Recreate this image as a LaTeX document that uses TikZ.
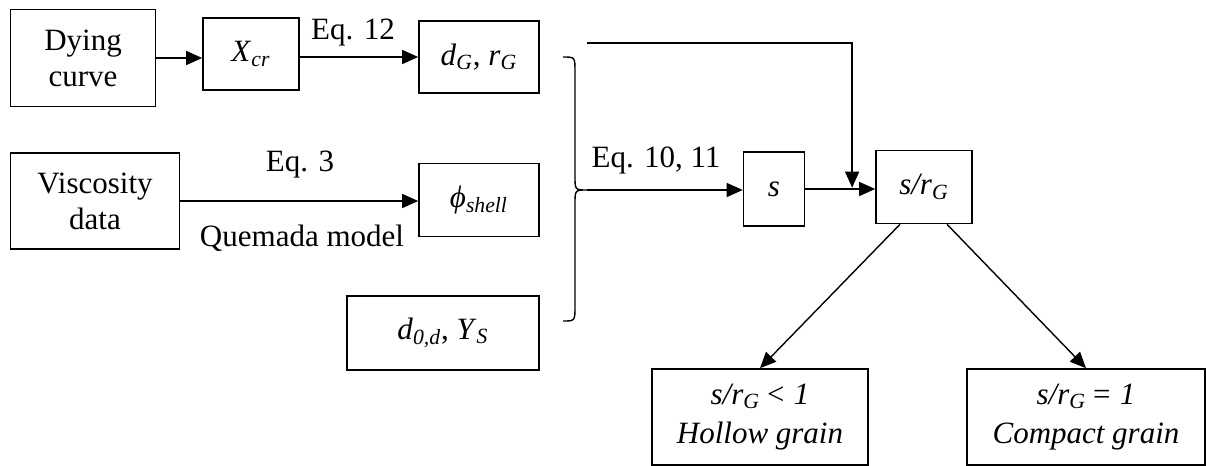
\documentclass[tikz,border=0pt]{standalone}
\usepackage{fontspec}
\setmainfont{Liberation Serif}
\usepackage{tikz}
\usetikzlibrary{arrows.meta, positioning, calc}
\newcommand{\isub}[2]{\textit{#1}\textsubscript{\textit{#2}}}

\begin{document}
\begin{tikzpicture}[x=0.5pt, y=-0.5pt,
  every node/.style={font=\fontsize{15.5}{18}\selectfont},
  box/.style={draw, line width=0.8pt, align=center, inner sep=0pt},
  arr/.style={line width=0.7pt, -{Triangle[length=8pt, width=7pt]}},
  lbl/.style={inner sep=0pt}]
  \useasboundingbox (0,0) rectangle (1206,466);

  % inputs
  \node[box, minimum width=72.5pt, minimum height=48.5pt] (dying) at (83,58) {Dying\\curve};
  \node[box, minimum width=48pt, minimum height=36pt] (xcr) at (251,54) {\isub{X}{cr}};
  \node[box, minimum width=60pt, minimum height=36pt] (dg) at (479,57) {\isub{d}{G}, \isub{r}{G}};
  \node[box, minimum width=84.5pt, minimum height=48pt] (visc) at (95,201) {Viscosity\\data};
  \node[box, minimum width=60pt, minimum height=36.5pt] (phi) at (479,200) {\isub{ϕ}{shell}};
  \node[box, minimum width=96pt, minimum height=37pt] (d0) at (443,333) {\isub{d}{0,d}, \isub{Y}{S}};

  % results
  \node[box, minimum width=30.5pt, minimum height=37pt] (s) at (774,189) {\textit{s}};
  \node[box, minimum width=48pt, minimum height=36.5pt] (sr) at (924,187) {\isub{s/r}{G}};
  \node[box, minimum width=108pt, minimum height=48pt, font=\fontsize{15.5}{19.5}\selectfont\itshape] (hollow) at (760,417) {\isub{s/r}{G}\,< 1\\Hollow grain};
  \node[box, minimum width=119pt, minimum height=48pt, font=\fontsize{15.5}{19.5}\selectfont\itshape] (compact) at (1086,417) {\isub{s/r}{G}\,= 1\\Compact grain};

  \node[lbl] (eq12) at (353,33) {Eq. 12};
  \node[lbl] (eq3) at (300,165) {Eq. 3};
  \node[lbl] (quem) at (302,238) {Quemada model};
  \node[lbl] (eq1011) at (656,160) {Eq. 10, 11};

  \draw[arr] (dying.east) -- (dying.east -| xcr.west);
  \draw[arr] (xcr.east |- dg.west) -- (dg.west);
  \draw[arr] (visc.east) -- (visc.east -| phi.west);

  % brace
  \coordinate (cusp) at (587,190);
  \draw[line width=0.7pt] (563,57) .. controls (575,57) .. (575,72) -- (575,176)
    .. controls (575,190) .. (cusp) .. controls (575,190) .. (575,204) -- (575,306)
    .. controls (575,321) .. (563,321);

  \coordinate (topl) at (587,43);
  \coordinate (join) at ($(s.east)!0.67!(sr.west)$);
  \draw[arr] (cusp) -- (cusp -| s.west);
  \draw[arr] (s.east) -- (s.east -| sr.west);
  \draw[arr] (topl) -| (join);

  \draw[arr] ([xshift=-12pt]sr.south) -- (hollow.north);
  \draw[arr] ([xshift=11.5pt]sr.south) -- (compact.north);
\end{tikzpicture}
\end{document}
